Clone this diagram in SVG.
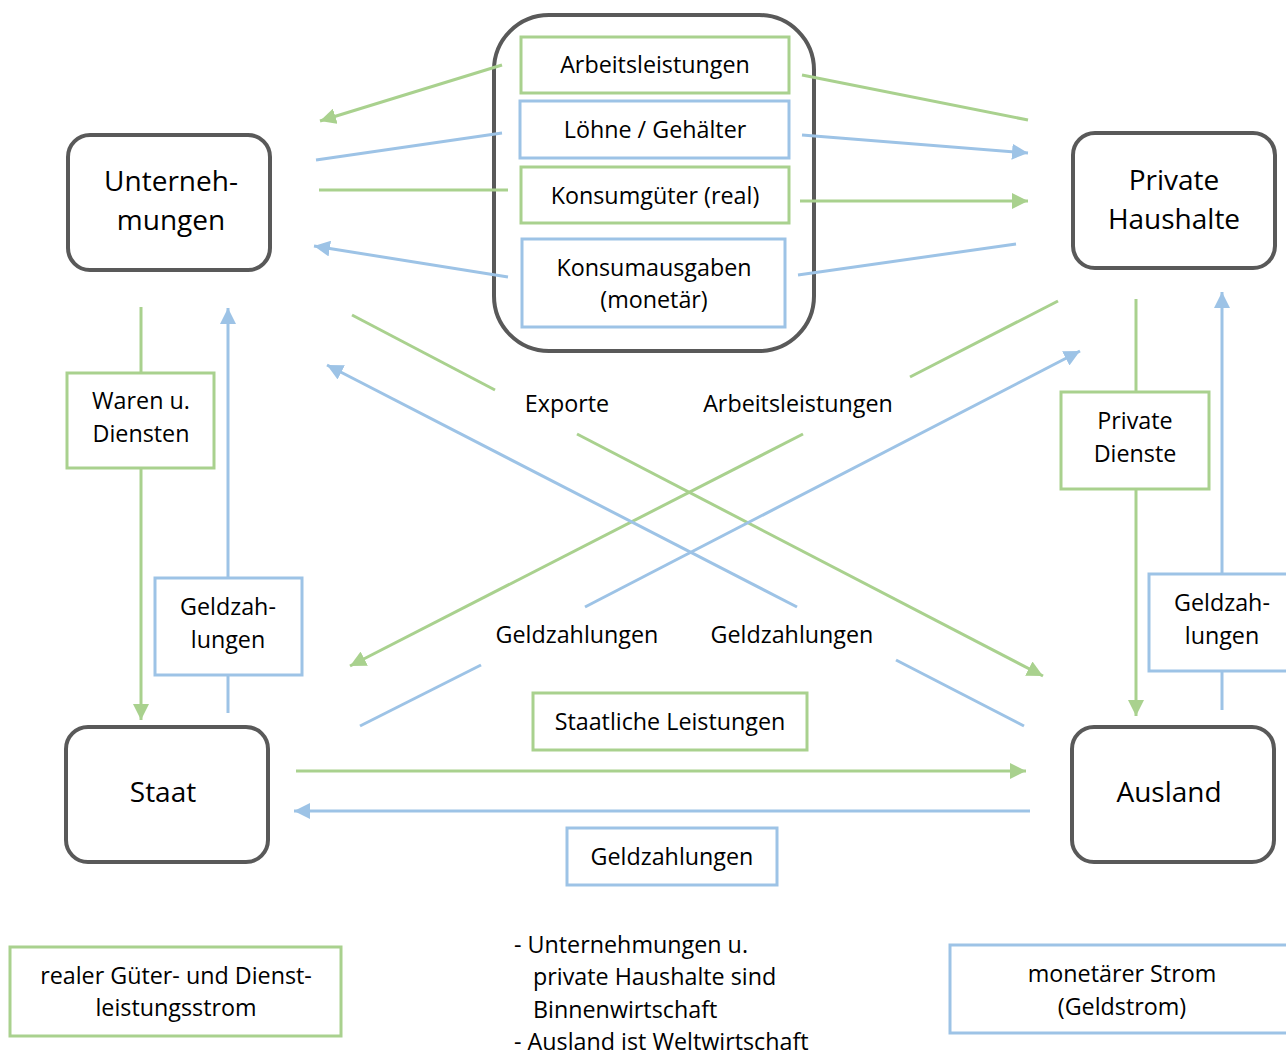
<svg xmlns="http://www.w3.org/2000/svg" width="1286" height="1055" viewBox="0 0 1286 1055">
<style>
text{font-family:"Open Sans",Lato,"Liberation Sans",sans-serif;fill:#000;text-anchor:middle}
.t{font-size:23.3px}
.n{font-size:28px}
.node{fill:#fff;stroke:#595959;stroke-width:4}
.gb{fill:#fff;stroke:#a9d18e;stroke-width:3}
.bb{fill:#fff;stroke:#9dc3e6;stroke-width:3}
.g{stroke:#a9d18e;stroke-width:3;fill:none}
.b{stroke:#9dc3e6;stroke-width:3;fill:none}
.ga{marker-end:url(#mg)}
.ba{marker-end:url(#mb)}
</style>
<defs>
<marker id="mg" markerUnits="userSpaceOnUse" markerWidth="18" markerHeight="16" refX="16" refY="8" orient="auto"><path d="M0,0 L16,8 L0,16 Z" fill="#a9d18e"/></marker>
<marker id="mb" markerUnits="userSpaceOnUse" markerWidth="18" markerHeight="16" refX="16" refY="8" orient="auto"><path d="M0,0 L16,8 L0,16 Z" fill="#9dc3e6"/></marker>
</defs>
<rect width="1286" height="1055" fill="#fff"/>

<g id="node-markt">
<rect x="494" y="15" width="320" height="336" rx="55" class="node"/>
</g>

<g id="connectors">
<line x1="502" y1="65" x2="320" y2="121" class="g ga"/>
<line x1="502" y1="133" x2="316" y2="160" class="b"/>
<line x1="508" y1="190" x2="319" y2="190" class="g"/>
<line x1="508" y1="277" x2="314" y2="246" class="b ba"/>
<line x1="802" y1="75" x2="1028" y2="120" class="g"/>
<line x1="802" y1="135" x2="1028" y2="153" class="b ba"/>
<line x1="800" y1="201" x2="1028" y2="201" class="g ga"/>
<line x1="798" y1="275" x2="1016" y2="244" class="b"/>
<line x1="352" y1="315" x2="495" y2="390" class="g"/>
<line x1="577" y1="434" x2="1043" y2="676" class="g ga"/>
<line x1="1058" y1="301" x2="910" y2="377" class="g"/>
<line x1="803" y1="434" x2="350" y2="666" class="g ga"/>
<line x1="1024" y1="726" x2="896" y2="660" class="b"/>
<line x1="797" y1="607" x2="327" y2="365" class="b ba"/>
<line x1="360" y1="726" x2="481" y2="665" class="b"/>
<line x1="585" y1="607" x2="1080" y2="351" class="b ba"/>
<line x1="141" y1="307" x2="141" y2="373" class="g"/>
<line x1="141" y1="468" x2="141" y2="720" class="g ga"/>
<line x1="228" y1="713" x2="228" y2="675" class="b"/>
<line x1="228" y1="578" x2="228" y2="308" class="b ba"/>
<line x1="1136" y1="299" x2="1136" y2="392" class="g"/>
<line x1="1136" y1="489" x2="1136" y2="716" class="g ga"/>
<line x1="1222" y1="710" x2="1222" y2="671" class="b"/>
<line x1="1222" y1="574" x2="1222" y2="292" class="b ba"/>
<line x1="296" y1="771" x2="1026" y2="771" class="g ga"/>
<line x1="1030" y1="811" x2="294" y2="811" class="b ba"/>
</g>

<g id="node-unternehmungen">
<rect x="68" y="135" width="202" height="135" rx="22" class="node"/>
<text class="n" x="171" y="191">Unterneh-</text>
<text class="n" x="171" y="230">mungen</text>
</g>
<g id="node-haushalte">
<rect x="1073" y="133" width="202" height="135" rx="22" class="node"/>
<text class="n" x="1174" y="190">Private</text>
<text class="n" x="1174" y="229">Haushalte</text>
</g>
<g id="node-staat">
<rect x="66" y="727" width="202" height="135" rx="22" class="node"/>
<text class="n" x="163" y="802">Staat</text>
</g>
<g id="node-ausland">
<rect x="1072" y="727" width="202" height="135" rx="22" class="node"/>
<text class="n" x="1169" y="802">Ausland</text>
</g>

<g id="label-arbeitsleistungen">
<rect x="521" y="37" width="268" height="56" class="gb"/>
<text class="t" x="655" y="73">Arbeitsleistungen</text>
</g>
<g id="label-loehne">
<rect x="520" y="101" width="269" height="57" class="bb"/>
<text class="t" x="655" y="138">Löhne / Gehälter</text>
</g>
<g id="label-konsumgueter">
<rect x="521" y="167" width="268" height="56" class="gb"/>
<text class="t" x="655" y="204">Konsumgüter (real)</text>
</g>
<g id="label-konsumausgaben">
<rect x="522" y="239" width="263" height="88" class="bb"/>
<text class="t" x="654" y="276">Konsumausgaben</text>
<text class="t" x="654" y="308">(monetär)</text>
</g>

<g id="label-exporte"><text class="t" x="567" y="412">Exporte</text></g>
<g id="label-arbeitsleistungen2"><text class="t" x="798" y="412">Arbeitsleistungen</text></g>
<g id="label-geld1"><text class="t" x="577" y="643">Geldzahlungen</text></g>
<g id="label-geld2"><text class="t" x="792" y="643">Geldzahlungen</text></g>

<g id="label-waren">
<rect x="67" y="373" width="147" height="95" class="gb"/>
<text class="t" x="141" y="409">Waren u.</text>
<text class="t" x="141" y="442">Diensten</text>
</g>
<g id="label-geldzahlungen-left">
<rect x="155" y="578" width="147" height="97" class="bb"/>
<text class="t" x="228" y="615">Geldzah-</text>
<text class="t" x="228" y="648">lungen</text>
</g>
<g id="label-private-dienste">
<rect x="1061" y="392" width="148" height="97" class="gb"/>
<text class="t" x="1135" y="429">Private</text>
<text class="t" x="1135" y="462">Dienste</text>
</g>
<g id="label-geldzahlungen-right">
<rect x="1149" y="574" width="145" height="97" class="bb"/>
<text class="t" x="1222" y="611">Geldzah-</text>
<text class="t" x="1222" y="644">lungen</text>
</g>
<g id="label-staatliche">
<rect x="533" y="693" width="274" height="57" class="gb"/>
<text class="t" x="670" y="730">Staatliche Leistungen</text>
</g>
<g id="label-geldzahlungen-bottom">
<rect x="567" y="828" width="210" height="57" class="bb"/>
<text class="t" x="672" y="865">Geldzahlungen</text>
</g>

<g id="legend-real">
<rect x="10" y="947" width="331" height="89" class="gb"/>
<text class="t" x="176" y="984">realer Güter- und Dienst-</text>
<text class="t" x="176" y="1016">leistungsstrom</text>
</g>
<g id="legend-notes">
<text class="t" x="514" y="953" style="text-anchor:start">- Unternehmungen u.</text>
<text class="t" x="533" y="985" style="text-anchor:start">private Haushalte sind</text>
<text class="t" x="533" y="1018" style="text-anchor:start">Binnenwirtschaft</text>
<text class="t" x="514" y="1050" style="text-anchor:start">- Ausland ist Weltwirtschaft</text>
</g>
<g id="legend-monetaer">
<rect x="950" y="945" width="345" height="88" class="bb"/>
<text class="t" x="1122" y="982">monetärer Strom</text>
<text class="t" x="1122" y="1015">(Geldstrom)</text>
</g>
</svg>
